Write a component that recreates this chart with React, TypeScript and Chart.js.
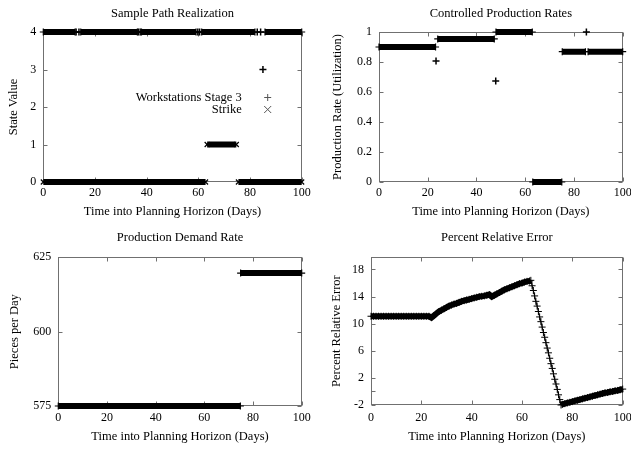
import React, { useEffect, useRef } from 'react';
import { Chart, registerables } from 'chart.js';

Chart.register(...registerables);

const FONT = '"Liberation Serif", "Times New Roman", serif';
const TICK_FONT = { family: FONT, size: 12, weight: 'normal' };
const TEXT_FONT = { family: FONT, size: 12.5, weight: 'normal' };

// Shared x axis
const dayTicks = [0, 20, 40, 60, 80, 100];

// Panel 1: Sample Path Realization
const stateTicks = [0, 1, 2, 3, 4];
const workstationRunStart = [0, 14.5, 38.0, 61.3, 85.8];
const workstationRunEnd = [12.3, 36.4, 59.1, 81.9, 100];
const workstationRunValue = [4, 4, 4, 4, 4];
const workstationPointDays = [12.7, 13.8, 36.8, 37.5, 59.8, 60.5, 82.8, 84.1, 85.0];
const workstationPointValues = [4, 4, 4, 4, 4, 4, 4, 4, 3];
const strikeRunStart = [0, 63.4, 75.5];
const strikeRunEnd = [62.8, 74.7, 100];
const strikeRunValue = [0, 1, 0];

// Panel 2: Controlled Production Rates
const rateTicks = [0, 0.2, 0.4, 0.6, 0.8, 1];
const rateRunStart = [0, 24.1, 48.0, 63.1, 75.2, 85.8];
const rateRunEnd = [23.2, 47.3, 62.9, 75.0, 84.7, 100];
const rateRunValue = [0.9, 0.954, 1.0, 0, 0.869, 0.869];
const ratePointDays = [23.4, 47.9, 85.1];
const ratePointValues = [0.807, 0.673, 1.0];

// Panel 3: Production Demand Rate
const demandTicks = [575, 600, 625];
const demandRunStart = [0, 74.9];
const demandRunEnd = [74.8, 100];
const demandRunValue = [575, 619.7];

// Panel 4: Percent Relative Error
const errorTicks = [-2, 2, 6, 10, 14, 18];
const errorMinorTicks = [0];
const errorDays = [
  0, 1, 2, 3, 4, 5, 6, 7, 8, 9, 10, 11, 12, 13, 14, 15, 16, 17, 18, 19, 20, 21, 22, 23,
  24, 25, 26, 27, 28, 29, 30, 31, 32, 33, 34, 35, 36, 37, 38, 39, 40, 41, 42, 43, 44, 45, 46, 47,
  48, 49, 50, 51, 52, 53, 54, 55, 56, 57, 58, 59, 60, 61, 62, 63,
  63.5, 64, 64.5, 65, 65.5, 66, 66.5, 67, 67.5, 68, 68.5, 69, 69.5, 70, 70.5, 71, 71.5, 72, 72.5,
  73, 73.5, 74, 74.5, 75, 75.5,
  76, 77, 78, 79, 80, 81, 82, 83, 84, 85, 86, 87, 88, 89, 90, 91, 92, 93, 94, 95, 96, 97, 98, 99, 100,
];
const errorValues = [
  11.1, 11.1, 11.1, 11.1, 11.1, 11.1, 11.1, 11.1, 11.1, 11.1, 11.1, 11.1, 11.1, 11.1, 11.1, 11.1,
  11.1, 11.1, 11.1, 11.1, 11.1, 11.1, 11.1, 11.1,
  10.9, 11.2, 11.5, 11.8, 12.0, 12.2, 12.4, 12.6, 12.75, 12.9, 13.0, 13.15, 13.3, 13.4, 13.5, 13.6,
  13.7, 13.8, 13.9, 14.0, 14.05, 14.1, 14.2, 14.3,
  14.0, 14.2, 14.4, 14.6, 14.8, 15.0, 15.15, 15.3, 15.45, 15.6, 15.75, 15.9, 16.0, 16.15, 16.25, 16.3,
  16.4, 15.6, 14.9, 14.1, 13.3, 12.6, 11.8, 11.0, 10.3, 9.5, 8.7, 8.0, 7.2, 6.4, 5.7, 4.9, 4.1, 3.4, 2.6,
  1.8, 1.1, 0.3, -0.5, -1.2, -2.0,
  -1.9, -1.8, -1.7, -1.6, -1.5, -1.4, -1.3, -1.2, -1.1, -1.0, -0.9, -0.8, -0.7, -0.6, -0.5, -0.4,
  -0.3, -0.2, -0.15, -0.05, 0.0, 0.1, 0.15, 0.25, 0.35,
];

type Pt = { x: number; y: number | null };

function runsToPoints(starts: number[], ends: number[], values: number[]): Pt[] {
  const out: Pt[] = [];
  starts.forEach((s, i) => {
    out.push({ x: s, y: values[i] });
    out.push({ x: ends[i], y: values[i] });
    if (i < starts.length - 1) out.push({ x: (ends[i] + starts[i + 1]) / 2, y: null });
  });
  return out;
}

function pairs(xs: number[], ys: number[]): Pt[] {
  return xs.map((x, i) => ({ x, y: ys[i] }));
}

function bandDataset(data: Pt[], endStyle: string) {
  return {
    data,
    borderColor: '#000',
    backgroundColor: '#000',
    borderWidth: 6,
    borderCapStyle: 'butt',
    pointStyle: endStyle,
    pointRadius: 3.5,
    pointBorderWidth: 1.2,
    pointBorderColor: '#000',
    spanGaps: false,
    clip: false,
    fill: false,
  };
}

function markerDataset(data: Pt[], style: string) {
  return {
    data,
    showLine: false,
    borderColor: '#000',
    pointStyle: style,
    pointRadius: 3.5,
    pointBorderWidth: 1.5,
    pointBorderColor: '#000',
    clip: false,
  };
}

const framePlugin = {
  id: 'frame',
  beforeDatasetsDraw(chart: any, _args: any, opts: any) {
    const { ctx, chartArea } = chart;
    const { left, right, top, bottom } = chartArea;
    const xs = chart.scales.x;
    const ys = chart.scales.y;
    const tl = 4;
    ctx.save();
    ctx.strokeStyle = '#707070';
    ctx.lineWidth = 1;
    const L = Math.round(left) + 0.5;
    const R = Math.round(right) - 0.5;
    const T = Math.round(top) + 0.5;
    const B = Math.round(bottom) - 0.5;
    ctx.strokeRect(L, T, R - L, B - T);
    ctx.beginPath();
    xs.ticks.forEach((t: any) => {
      const px = Math.round(xs.getPixelForValue(t.value)) + 0.5;
      ctx.moveTo(px, B);
      ctx.lineTo(px, B - tl);
      ctx.moveTo(px, T);
      ctx.lineTo(px, T + tl);
    });
    const yv = ys.ticks.map((t: any) => t.value).concat((opts && opts.extraYTicks) || []);
    yv.forEach((v: number) => {
      const py = Math.round(ys.getPixelForValue(v)) + 0.5;
      ctx.moveTo(L, py);
      ctx.lineTo(L + tl, py);
      ctx.moveTo(R, py);
      ctx.lineTo(R - tl, py);
    });
    ctx.stroke();
    ctx.restore();
  },
};

const insetLegendPlugin = {
  id: 'insetLegend',
  afterDatasetsDraw(chart: any) {
    const { ctx, chartArea } = chart;
    const textRight = chartArea.right - 60;
    const markX = chartArea.right - 34;
    const y1 = chartArea.top + 65.5;
    const y2 = chartArea.top + 77.5;
    ctx.save();
    ctx.fillStyle = '#000';
    ctx.font = `${TEXT_FONT.size}px ${FONT}`;
    ctx.textAlign = 'right';
    ctx.textBaseline = 'middle';
    ctx.fillText('Workstations Stage 3', textRight, y1);
    ctx.fillText('Strike', textRight, y2);
    ctx.strokeStyle = '#555';
    ctx.lineWidth = 1;
    const r = 3.5;
    ctx.beginPath();
    ctx.moveTo(markX - r, y1);
    ctx.lineTo(markX + r, y1);
    ctx.moveTo(markX, y1 - r);
    ctx.lineTo(markX, y1 + r);
    ctx.moveTo(markX - r, y2 - r);
    ctx.lineTo(markX + r, y2 + r);
    ctx.moveTo(markX - r, y2 + r);
    ctx.lineTo(markX + r, y2 - r);
    ctx.stroke();
    ctx.restore();
  },
};

type Spec = {
  left: number;
  top: number;
  width: number;
  height: number;
  area: { l: number; r: number; t: number; b: number };
  title: string;
  titleY: number;
  yTitle: string;
  yTitleX: number;
  xTitleY: number;
  xTickY: number;
  yMin: number;
  yMax: number;
  yTicks: number[];
  extraYTicks?: number[];
  datasets: any[];
  plugins?: any[];
};

function buildConfig(spec: Spec): any {
  const lhT = TEXT_FONT.size * 1.2;
  const lhK = TICK_FONT.size * 1.2;
  return {
    type: 'line',
    data: { datasets: spec.datasets },
    options: {
      animation: false,
      responsive: false,
      maintainAspectRatio: false,
      devicePixelRatio: 1,
      events: [],
      layout: { padding: { left: 0, top: 0, bottom: 0, right: spec.width - spec.area.r } },
      plugins: {
        legend: { display: false },
        tooltip: { enabled: false },
        title: {
          display: true,
          text: spec.title,
          fullSize: false,
          color: '#000',
          font: TEXT_FONT,
          padding: { top: spec.titleY - lhT / 2, bottom: spec.area.t - spec.titleY - lhT / 2 },
        },
        frame: { extraYTicks: spec.extraYTicks || [] },
      },
      scales: {
        x: {
          type: 'linear',
          min: 0,
          max: 100,
          grid: { display: false, drawTicks: false, tickLength: 0 },
          border: { display: false },
          ticks: {
            color: '#000',
            font: TICK_FONT,
            padding: spec.xTickY - spec.area.b - lhK / 2,
            maxRotation: 0,
            autoSkip: false,
          },
          afterBuildTicks: (s: any) => {
            s.ticks = dayTicks.map((v) => ({ value: v }));
          },
          afterFit: (s: any) => {
            s.height = spec.height - spec.area.b;
            s.paddingLeft = 0;
            s.paddingRight = 0;
          },
          title: {
            display: true,
            text: 'Time into Planning Horizon (Days)',
            color: '#000',
            font: TEXT_FONT,
            padding: { top: 0, bottom: spec.height - spec.xTitleY - lhT / 2 },
          },
        },
        y: {
          type: 'linear',
          min: spec.yMin,
          max: spec.yMax,
          grid: { display: false, drawTicks: false, tickLength: 0 },
          border: { display: false },
          ticks: {
            color: '#000',
            font: TICK_FONT,
            padding: 7,
            autoSkip: false,
            callback: (v: number) => String(Math.round(v * 100) / 100),
          },
          afterBuildTicks: (s: any) => {
            s.ticks = spec.yTicks.map((v) => ({ value: v }));
          },
          afterFit: (s: any) => {
            s.width = spec.area.l;
            s.paddingTop = 0;
            s.paddingBottom = 0;
          },
          title: {
            display: true,
            text: spec.yTitle,
            color: '#000',
            font: TEXT_FONT,
            padding: { top: spec.yTitleX - lhT / 2, bottom: 0 },
          },
        },
      },
    },
    plugins: [framePlugin, ...(spec.plugins || [])],
  };
}

const specs: Spec[] = [
  {
    left: 0, top: 0, width: 315, height: 224,
    area: { l: 43.3, r: 301.7, t: 32, b: 182 },
    title: 'Sample Path Realization', titleY: 14,
    yTitle: 'State Value', yTitleX: 14,
    xTitleY: 212, xTickY: 193.3,
    yMin: 0, yMax: 4, yTicks: stateTicks,
    datasets: [
      bandDataset(runsToPoints(workstationRunStart, workstationRunEnd, workstationRunValue), 'cross'),
      markerDataset(pairs(workstationPointDays, workstationPointValues), 'cross'),
      bandDataset(runsToPoints(strikeRunStart, strikeRunEnd, strikeRunValue), 'crossRot'),
    ],
    plugins: [insetLegendPlugin],
  },
  {
    left: 315, top: 0, width: 316, height: 224,
    area: { l: 64, r: 307.7, t: 32, b: 182 },
    title: 'Controlled Production Rates', titleY: 14,
    yTitle: 'Production Rate (Utilization)', yTitleX: 22.3,
    xTitleY: 212, xTickY: 193.3,
    yMin: 0, yMax: 1, yTicks: rateTicks,
    datasets: [
      bandDataset(runsToPoints(rateRunStart, rateRunEnd, rateRunValue), 'cross'),
      markerDataset(pairs(ratePointDays, ratePointValues), 'cross'),
    ],
  },
  {
    left: 0, top: 225, width: 315, height: 224,
    area: { l: 58.3, r: 301.7, t: 32.3, b: 181 },
    title: 'Production Demand Rate', titleY: 12.3,
    yTitle: 'Pieces per Day', yTitleX: 15,
    xTitleY: 212, xTickY: 193,
    yMin: 575, yMax: 625, yTicks: demandTicks,
    datasets: [bandDataset(runsToPoints(demandRunStart, demandRunEnd, demandRunValue), 'cross')],
  },
  {
    left: 315, top: 225, width: 316, height: 224,
    area: { l: 56, r: 307.7, t: 32.3, b: 180 },
    title: 'Percent Relative Error', titleY: 12.3,
    yTitle: 'Percent Relative Error', yTitleX: 21.7,
    xTitleY: 212, xTickY: 193,
    yMin: -2, yMax: 19.8, yTicks: errorTicks, extraYTicks: errorMinorTicks,
    datasets: [
      {
        data: pairs(errorDays, errorValues),
        borderColor: '#000',
        borderWidth: 6,
        segment: {
          borderWidth: (c: any) =>
            Math.abs(c.p1.y - c.p0.y) > 2 * Math.abs(c.p1.x - c.p0.x) ? 1 : 6,
        },
        pointStyle: 'cross',
        pointRadius: 3.5,
        pointBorderWidth: 1,
        pointBorderColor: '#000',
        clip: false,
        fill: false,
      },
    ],
  },
];

function Panel({ spec }: { spec: Spec }) {
  const ref = useRef<HTMLCanvasElement | null>(null);
  useEffect(() => {
    if (!ref.current) return;
    const chart = new Chart(ref.current, buildConfig(spec));
    return () => chart.destroy();
  }, [spec]);
  return (
    <canvas
      ref={ref}
      width={spec.width}
      height={spec.height}
      style={{
        position: 'absolute',
        left: spec.left,
        top: spec.top,
        width: spec.width,
        height: spec.height,
      }}
    />
  );
}

export default function App() {
  return (
    <div
      style={{
        position: 'absolute',
        left: 0,
        top: 0,
        width: 631,
        height: 449,
        background: '#fff',
        overflow: 'hidden',
      }}
    >
      {specs.map((s, i) => (
        <Panel key={i} spec={s} />
      ))}
    </div>
  );
}
